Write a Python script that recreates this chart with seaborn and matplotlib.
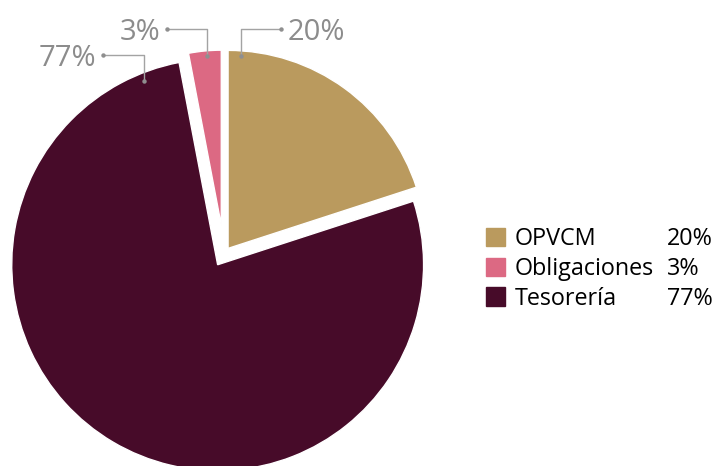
import matplotlib
matplotlib.use("Agg")
import matplotlib.pyplot as plt
import matplotlib.patches as mpatches
import numpy as np
import seaborn as sns

# data
categories = ["OPVCM", "Tesorería", "Obligaciones"]
shares = [20, 77, 3]
labels_pct = ["20%", "77%", "3%"]
legend_order = ["OPVCM", "Obligaciones", "Tesorería"]

sns.set_style("white")
plt.rcParams["font.family"] = ["Open Sans", "DejaVu Sans"]

colors = dict(zip(["OPVCM", "Obligaciones", "Tesorería"],
                  sns.color_palette(["#BA9A5E", "#DC6983", "#470B29"])))

fig = plt.figure(figsize=(7.19, 4.66), dpi=100)
ax = fig.add_axes([0, 0, 1, 1])

# per-slice styling (explode and radius scale as in the original artwork)
explode = [0.035, 0.063, 0.146]
rscale = [1.0, 1.04, 0.884]

wedges, _ = ax.pie(shares, colors=[colors[c] for c in categories],
                   startangle=90, counterclock=False, explode=explode,
                   radius=1.0)
for w, s in zip(wedges, rscale):
    w.set_radius(w.r * s)

ax.set_xlim(-224 / 198, (719 - 224) / 198)
ax.set_ylim(-(466 - 254) / 198, 254 / 198)
ax.set_aspect("auto")
ax.axis("off")

# leader lines: anchor angle/radius fraction, elbow height, end x
anchor_ang = [86.1, 112.0, 94.75]
anchor_frac = [0.972, 0.96, 0.97]
elbow_y = [1.136, 1.005, 1.136]
end_x = [0.288, -0.611, -0.288]
line_col = "#A3A3A3"
text_col = "#8C8C8C"
for w, a, f, ey, ex, lab in zip(wedges, anchor_ang, anchor_frac,
                                elbow_y, end_x, labels_pct):
    cx, cy = w.center
    axp = cx + f * w.r * np.cos(np.radians(a))
    ayp = cy + f * w.r * np.sin(np.radians(a))
    ax.plot([axp, axp, ex], [ayp, ey, ey], color=line_col, lw=1.0,
            solid_capstyle="butt", zorder=3)
    ax.plot([axp, ex], [ayp, ey], "o", color="#8F8F8F", ms=3.2,
            mec="none", zorder=4)
    if ex > axp:
        ax.text(ex + 0.035, ey, lab, ha="left", va="center_baseline",
                fontsize=21, color=text_col)
    else:
        ax.text(ex - 0.035, ey, lab, ha="right", va="center_baseline",
                fontsize=21, color=text_col)

# legend: names + aligned percentages
pct_for = dict(zip(categories, labels_pct))
handles = [mpatches.Patch(color=colors[c]) for c in legend_order]
leg_kw = dict(loc="upper left", frameon=False, fontsize=16.8,
              handleheight=0.82, borderpad=0, borderaxespad=0,
              labelspacing=0.25, labelcolor="black")
leg1 = fig.legend(handles, legend_order,
                  bbox_to_anchor=(486 / 719, 1 - 227 / 466),
                  handlelength=0.82, handletextpad=0.4, **leg_kw)
blank = [mpatches.Patch(alpha=0) for _ in legend_order]
leg2 = fig.legend(blank, [pct_for[c] for c in legend_order],
                  bbox_to_anchor=(667 / 719, 1 - 227 / 466),
                  handlelength=0, handletextpad=0, **leg_kw)

fig.savefig("out.png", dpi=100)
